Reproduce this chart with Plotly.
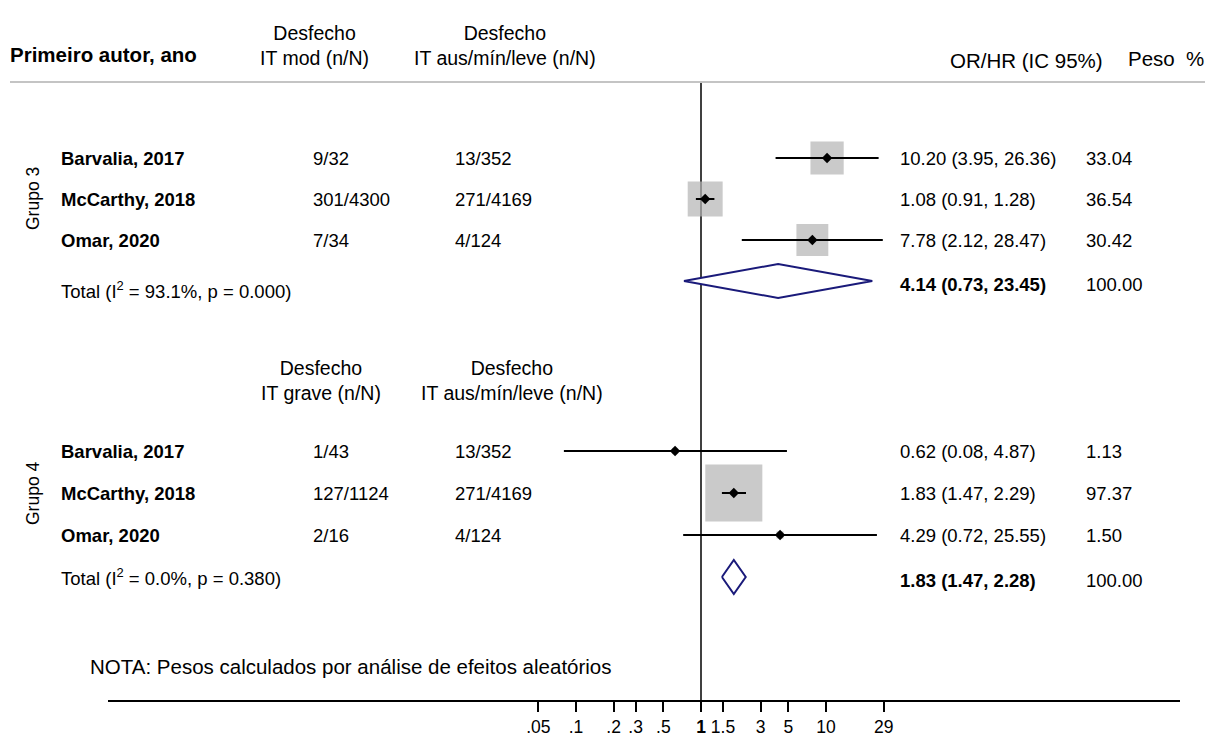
import plotly.graph_objects as go
import math

# ---------------- data ----------------
studies = ["Barvalia, 2017", "McCarthy, 2018", "Omar, 2020"]

g3_col1 = ["9/32", "301/4300", "7/34"]
g3_col2 = ["13/352", "271/4169", "4/124"]
g3_or = [10.20, 1.08, 7.78]
g3_lo = [3.95, 0.91, 2.12]
g3_hi = [26.36, 1.28, 28.47]
g3_w = [33.04, 36.54, 30.42]
g3_total = [4.14, 0.73, 23.45]
g3_total_label = "Total (I<sup>2</sup> = 93.1%, p = 0.000)"
g3_head = ["Desfecho<br>IT mod (n/N)", "Desfecho<br>IT aus/mín/leve (n/N)"]

g4_col1 = ["1/43", "127/1124", "2/16"]
g4_col2 = ["13/352", "271/4169", "4/124"]
g4_or = [0.62, 1.83, 4.29]
g4_lo = [0.08, 1.47, 0.72]
g4_hi = [4.87, 2.29, 25.55]
g4_w = [1.13, 97.37, 1.50]
g4_total = [1.83, 1.47, 2.28]
g4_total_label = "Total (I<sup>2</sup> = 0.0%, p = 0.380)"
g4_head = ["Desfecho<br>IT grave (n/N)", "Desfecho<br>IT aus/mín/leve (n/N)"]

tick_vals = [0.05, 0.1, 0.2, 0.3, 0.5, 1, 1.5, 3, 5, 10, 29]
tick_text = [".05", ".1", ".2", ".3", ".5", "<b>1</b>", "1.5", "3", "5", "10", "29"]

# ---------------- layout helpers ----------------
W, H = 1205, 739
L, R, T, B = 108, 25, 0, 39
PW = W - L - R
FONT = "Liberation Sans, Arial, sans-serif"

def px(x):
    return (x - L) / PW

g3_rows = [158, 199, 240]
g3_total_row = 281
g4_rows = [451, 493, 535]
g4_total_row = 577
diamond_half = 17
box_scale = 5.78  # px per sqrt(weight)

fig = go.Figure()

def add_group(rows, total_row, ors, los, his, ws, tot):
    # weight boxes
    fig.add_trace(go.Scatter(
        x=ors, y=rows, mode="markers",
        marker=dict(symbol="square", size=[box_scale * math.sqrt(w) for w in ws],
                    color="#b3b3b3", line=dict(width=0)),
        hoverinfo="skip", cliponaxis=False, showlegend=False))
    # CI lines
    xs, ys = [], []
    for lo, hi, r in zip(los, his, rows):
        xs += [lo, hi, None]
        ys += [r, r, None]
    fig.add_trace(go.Scatter(x=xs, y=ys, mode="lines",
                             line=dict(color="black", width=2),
                             hoverinfo="skip", cliponaxis=False, showlegend=False))
    # point estimates
    fig.add_trace(go.Scatter(x=ors, y=rows, mode="markers",
                             marker=dict(symbol="diamond", size=8, color="black"),
                             hoverinfo="skip", cliponaxis=False, showlegend=False))
    # pooled diamond
    est, lo, hi = tot
    fig.add_trace(go.Scatter(
        x=[lo, est, hi, est, lo],
        y=[total_row, total_row - diamond_half, total_row, total_row + diamond_half, total_row],
        mode="lines", fill="toself", fillcolor="white",
        line=dict(color="#1a1a7a", width=2),
        hoverinfo="skip", cliponaxis=False, showlegend=False))

# null line at OR = 1
fig.add_trace(go.Scatter(x=[1, 1], y=[82, 700], mode="lines",
                         line=dict(color="black", width=1.5),
                         hoverinfo="skip", cliponaxis=False, showlegend=False))

add_group(g3_rows, g3_total_row, g3_or, g3_lo, g3_hi, g3_w, g3_total)
add_group(g4_rows, g4_total_row, g4_or, g4_lo, g4_hi, g4_w, g4_total)

ann = []

DS = 18.5   # data text size
HS = 20.5   # header text size

def text(xp, y, s, size=DS, anchor="left", bold=False, angle=0):
    if bold:
        s = "<b>" + s + "</b>"
    ann.append(dict(x=px(xp), y=y, xref="paper", yref="y", text=s,
                    showarrow=False, xanchor=anchor, yanchor="middle",
                    borderpad=0, borderwidth=0,
                    textangle=angle, font=dict(family=FONT, size=size, color="black")))

# top header
text(10, 54, "Primeiro autor, ano", size=HS, bold=True)
text(314, 45, g3_head[0], size=19.5, anchor="center")
text(505, 45, g3_head[1], size=19.5, anchor="center")
text(950, 60, "OR/HR (IC 95%)", size=HS)
text(1128, 58, "Peso  %", size=HS)

# group 4 header
text(321, 380, g4_head[0], size=19.5, anchor="center")
text(512, 380, g4_head[1], size=19.5, anchor="center")

# group labels
text(33, 199, "Grupo 3", size=17.5, anchor="center", angle=-90)
text(33, 493, "Grupo 4", size=17.5, anchor="center", angle=-90)

def rows_text(rows, total_row, c1, c2, ors, los, his, ws, tot, tot_label, tot_text_y):
    for i, r in enumerate(rows):
        text(61, r, studies[i], bold=True)
        text(313, r, c1[i])
        text(455, r, c2[i])
        text(900, r, f"{ors[i]:.2f} ({los[i]:.2f}, {his[i]:.2f})")
        text(1086, r, f"{ws[i]:.2f}")
    text(61, tot_text_y, tot_label)
    text(900, total_row + 3, f"{tot[0]:.2f} ({tot[1]:.2f}, {tot[2]:.2f})", bold=True)
    text(1086, total_row + 3, f"{sum(ws):.2f}")

rows_text(g3_rows, g3_total_row, g3_col1, g3_col2, g3_or, g3_lo, g3_hi, g3_w,
          g3_total, g3_total_label, 290)
rows_text(g4_rows, g4_total_row, g4_col1, g4_col2, g4_or, g4_lo, g4_hi, g4_w,
          g4_total, g4_total_label, 577)

text(90, 666, "NOTA: Pesos calculados por análise de efeitos aleatórios", size=HS)

lo_log = (L - 701) / 125.0
hi_log = (W - R - 701) / 125.0

fig.update_layout(
    width=W, height=H,
    margin=dict(l=L, r=R, t=T, b=B, pad=0),
    paper_bgcolor="white", plot_bgcolor="white",
    showlegend=False,
    annotations=ann,
    shapes=[dict(type="line", xref="paper", yref="y", x0=px(10), x1=px(1205),
                 y0=82, y1=82, line=dict(color="#c4c4c4", width=2))],
    xaxis=dict(type="log", range=[lo_log, hi_log], showgrid=False, zeroline=False,
               showline=True, linecolor="black", linewidth=1.5,
               ticks="outside", ticklen=10, tickwidth=1.5, tickcolor="black",
               tickvals=tick_vals, ticktext=tick_text,
               tickfont=dict(family=FONT, size=17.5, color="black"), fixedrange=True),
    yaxis=dict(range=[700, 0], visible=False, showgrid=False, zeroline=False,
               fixedrange=True),
)

fig.write_html("out.html")
